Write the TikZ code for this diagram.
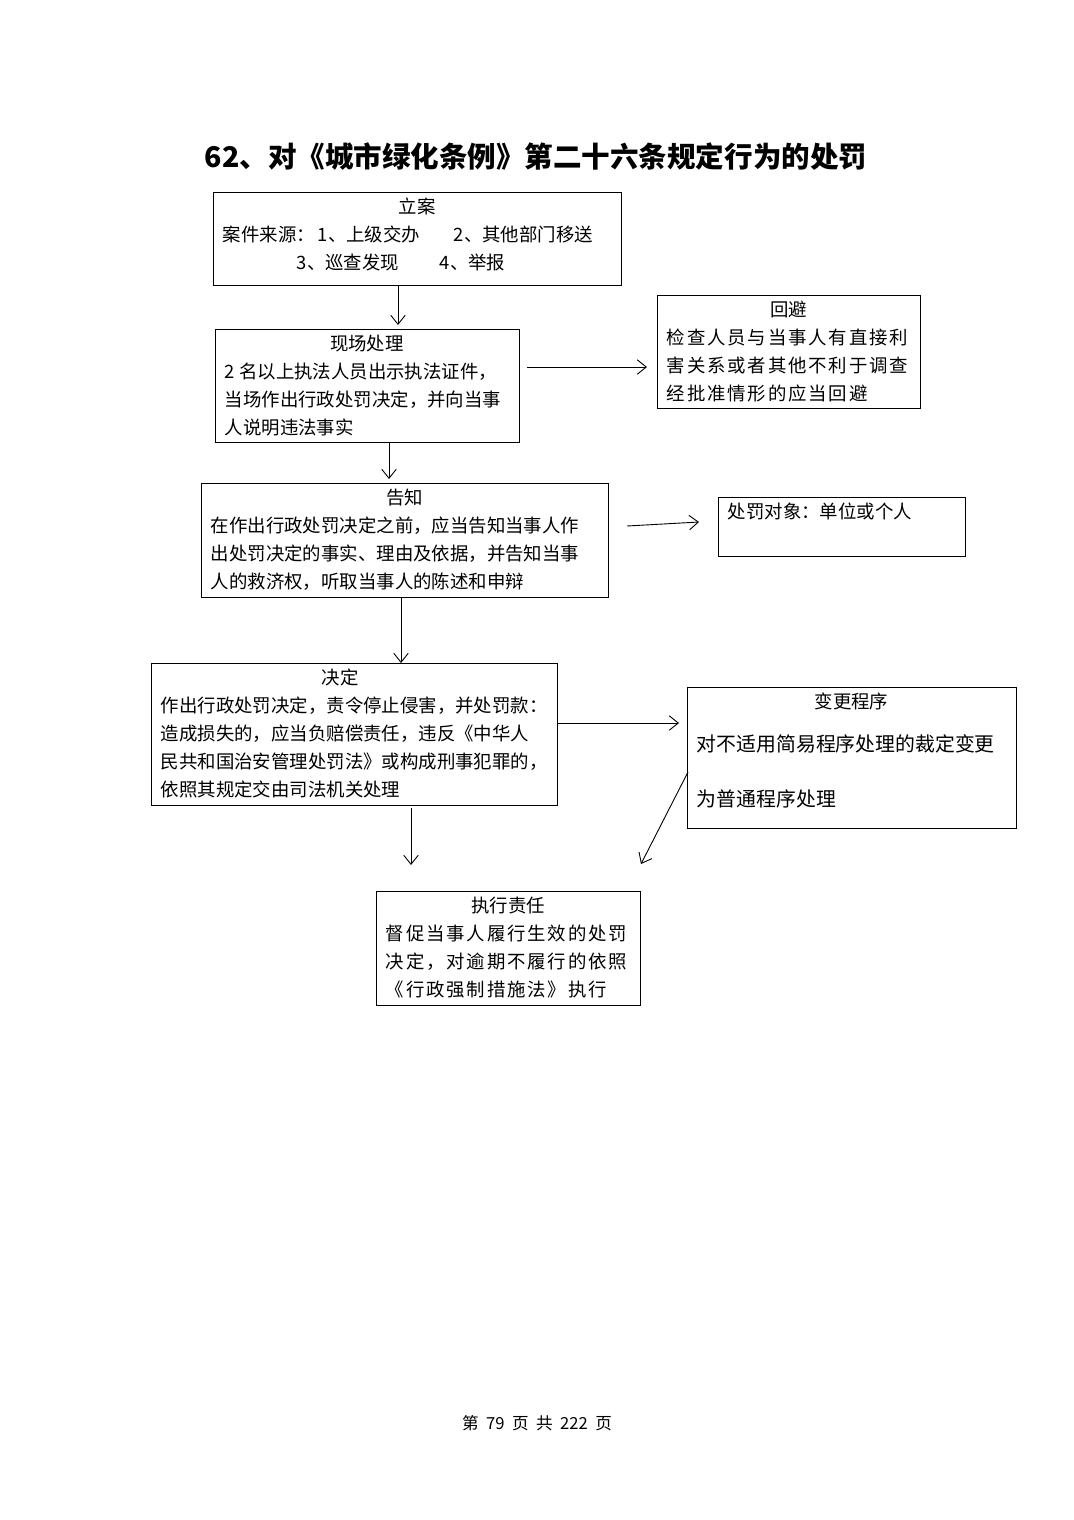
\documentclass[tikz,border=0pt]{standalone}
\usepackage{fontspec}
\setmainfont{Noto Sans CJK SC}
\usetikzlibrary{positioning,arrows.meta}

\newdimen\pxu \pxu=0.554pt
\newcommand\wenzi{\fontsize{10.2pt}{15.5pt}\selectfont}
% box text: width, height (px), content
\newcommand\hezi[3]{\parbox[c][#2\pxu][t]{\dimexpr#1\pxu-11pt\relax}{\vspace*{3.5pt}#3}}
\newcommand\kuanzi{\addfontfeatures{LetterSpace=10}}

\begin{document}
\begin{tikzpicture}[x=0.554pt, y=-0.554pt,
    kuang/.style={draw, line width=0.5pt, inner xsep=5.5pt, inner ysep=0pt, font=\wenzi},
    jt/.style={-{Straight Barb[length=5pt,width=8pt]}, line width=0.5pt},
]
\useasboundingbox (0,0) rectangle (1074,1520);

\node[font=\fontsize{15.8pt}{19pt}\selectfont\bfseries] (biaoti) at (536,157)
    {62、对《城市绿化条例》第二十六条规定行为的处罚};

\node[kuang] (lian) at (417,238.5) {\hezi{408}{93}{\centerline{立案}%
    \makebox[95\pxu][l]{案件来源：}\makebox[136\pxu][l]{1、上级交办}2、其他部门移送\\
    \hspace*{74\pxu}\makebox[143\pxu][l]{3、巡查发现}4、举报}};

\node[kuang] (xianchang) at (367,385.5) {\hezi{304}{113}{\centerline{现场处理}%
    2 名以上执法人员出示执法证件，\\
    当场作出行政处罚决定，并向当事\\
    人说明违法事实}};

\node[kuang] (huibi) at (788.5,351.5) {\hezi{263}{113}{\centerline{回避}%
    {\kuanzi 检查人员与当事人有直接利\\
    害关系或者其他不利于调查\\
    经批准情形的应当回避\par}}};

\node[kuang] (gaozhi) at (404.5,540) {\hezi{407}{114}{\centerline{告知}%
    在作出行政处罚决定之前，应当告知当事人作\\
    出处罚决定的事实、理由及依据，并告知当事\\
    人的救济权，听取当事人的陈述和申辩}};

\node[kuang] (duixiang) at (841.5,526.5) {\hezi{247}{59}{处罚对象：单位或个人}};

\node[kuang] (jueding) at (354,734) {\hezi{406}{142}{\centerline{决定\hspace*{28\pxu}}%
    作出行政处罚决定，责令停止侵害，并处罚款：\\
    造成损失的，应当负赔偿责任，违反《中华人\\
    民共和国治安管理处罚法》或构成刑事犯罪的，\\
    依照其规定交由司法机关处理}};

\node[kuang] (biangeng) at (851.5,757.5) {\hezi{329}{141}{\centerline{变更程序}%
    \vspace{7.8pt}%
    {\fontsize{11pt}{15.5pt}\selectfont 对不适用简易程序处理的裁定变更\\[15.5pt]
    为普通程序处理\par}}};

\node[kuang] (zhixing) at (508,948) {\hezi{264}{114}{\centerline{执行责任}%
    {\kuanzi 督促当事人履行生效的处罚\\
    决定，对逾期不履行的依照\\
    《行政强制措施法》执行\par}}};

\node[font=\fontsize{9.2pt}{11pt}\selectfont] (yema) at (537,1423)
    {第\hspace{0.45em}79\hspace{0.45em}页\hspace{0.45em}共\hspace{0.45em}222\hspace{0.45em}页};

% arrows
\coordinate (t1) at (398,325);
\coordinate (t2) at (389,479);
\coordinate (t3) at (647,367);
\coordinate (s4) at (627,526);
\coordinate (t4) at (699,522);
\coordinate (t5) at (401,663);
\coordinate (t6) at (679,723);
\coordinate (t7) at (411,865);
\coordinate (s8) at (688,772);
\coordinate (t8) at (641,864);

\draw[jt] (lian.south -| t1) -- (t1);
\draw[jt] (xianchang.south -| t2) -- (t2);
\draw[jt, shorten <=4.4pt] (xianchang.east |- t3) -- (t3);
\draw[jt] (s4) -- (t4);
\draw[jt] (gaozhi.south -| t5) -- (t5);
\draw[jt] (jueding.east |- t6) -- (t6);
\draw[jt, shorten <=1.5pt] (jueding.south -| t7) -- (t7);
\draw[jt] (s8) -- (t8);
\end{tikzpicture}
\end{document}
